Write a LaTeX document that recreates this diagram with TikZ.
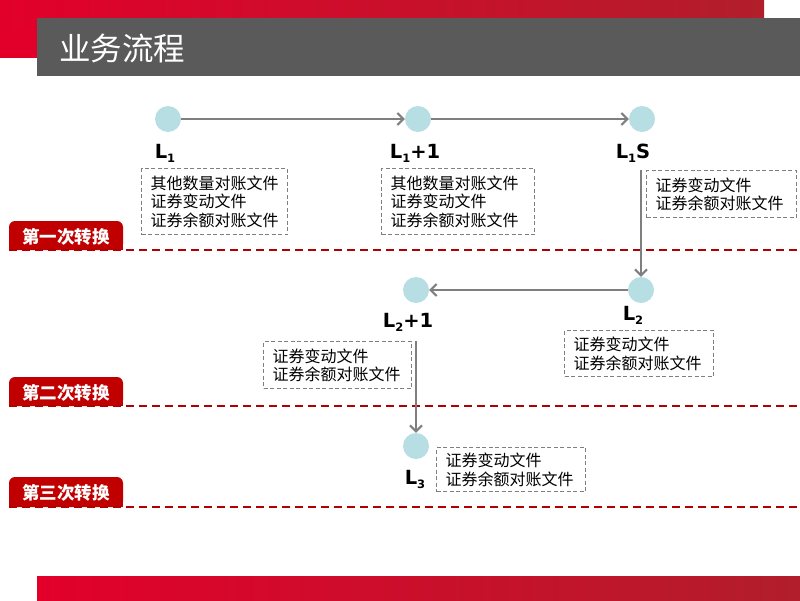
\documentclass[tikz,border=0pt]{standalone}
\usepackage{fontspec}
\setmainfont{Liberation Sans}
\newfontfamily\cjk{Noto Sans CJK SC}
\newfontfamily\labfont{DejaVu Sans}
\usetikzlibrary{arrows.meta}
\definecolor{redA}{HTML}{E2002B}
\definecolor{redB}{HTML}{B21E2B}
\definecolor{barGray}{HTML}{5A5A5A}
\definecolor{nodeBlue}{HTML}{B7DEE3}
\definecolor{arrGray}{HTML}{7F7F7F}
\definecolor{tabRed}{HTML}{C00000}
\definecolor{lineRed}{HTML}{B00000}
\newcommand\Lab[2]{L\raisebox{-4pt}{\fontsize{11.5}{11.5}\selectfont #1}#2}
\tikzset{
  dot/.style={circle, fill=nodeBlue, minimum size=26pt, inner sep=0pt},
  arr/.style={draw=arrGray, line width=2.6pt, -{Straight Barb[length=6pt,width=12pt,line width=2pt]}},
  lbl/.style={font=\labfont\bfseries\fontsize{19.5}{19.5}\selectfont, anchor=base, inner sep=0pt},
  fbox/.style={draw=arrGray, dash pattern=on 4pt off 2.5pt, line width=1.4pt,
    font=\cjk\fontsize{16}{18.5}\selectfont, align=left, inner xsep=9pt, inner ysep=3pt, anchor=north west},
  tabtxt/.style={text=white, font=\cjk\bfseries\fontsize{17.5}{17.5}\selectfont, inner sep=0pt},
  rdash/.style={draw=lineRed, line width=2pt, dash pattern=on 8pt off 5pt},
}
\begin{document}
\begin{tikzpicture}[x=1pt,y=-1pt]
\useasboundingbox (0,0) rectangle (800,600);
% header
\fill[redA] (0,0) rectangle (40,58);
\shade[left color=redA, right color=redB] (0,0) rectangle (764,28);
\fill[barGray] (37,18) rectangle (800,76);
\node[font=\cjk\fontsize{31.5}{31.5}\selectfont, text=white, anchor=west, inner sep=0pt] (title) at (59,48) {业务流程};
% footer
\shade[left color=redA, right color=redB] (37,576) rectangle (800,600);
% tabs and dashed lines
\fill[tabRed, rounded corners=6pt] (9,221) rectangle (123,250);
\fill[tabRed] (9,238) rectangle (123,250);
\node[tabtxt] (t1) at (66,237) {第一次转换};
\draw[rdash] (9,250) -- (800,250);
\fill[tabRed, rounded corners=6pt] (9,377) rectangle (123,406);
\fill[tabRed] (9,394) rectangle (123,406);
\node[tabtxt] (t2) at (66,393) {第二次转换};
\draw[rdash] (9,406) -- (800,406);
\fill[tabRed, rounded corners=6pt] (9,477) rectangle (123,507);
\fill[tabRed] (9,494) rectangle (123,507);
\node[tabtxt] (t3) at (66,493) {第三次转换};
\draw[rdash] (9,507) -- (800,507);
% nodes
\node[dot] (n1) at (168,119) {};
\node[dot] (n2) at (418,119) {};
\node[dot] (n3) at (642,119) {};
\node[dot] (n4) at (641,290) {};
\node[dot] (n5) at (416,290) {};
\node[dot] (n6) at (416,446) {};
% labels
\node[lbl] (l1) at (165,158) {\Lab{1}{}};
\node[lbl] (l2) at (415,158) {\Lab{1}{+1}};
\node[lbl] (l3) at (633,158) {\Lab{1}{S}};
\node[lbl] (l4) at (633,320) {\Lab{2}{}};
\node[lbl] (l5) at (408,327) {\Lab{2}{+1}};
\node[lbl] (l6) at (415,484) {\Lab{3}{}};
% boxes
\node[fbox, text width=128pt, minimum height=66pt] (b1) at (141,168) {其他数量对账文件\\证券变动文件\\证券余额对账文件};
\node[fbox, text width=135pt, minimum height=66pt] (b2) at (381,168) {其他数量对账文件\\证券变动文件\\证券余额对账文件};
\node[fbox, text width=132pt, minimum height=47pt] (b3) at (646,170) {证券变动文件\\证券余额对账文件};
\node[fbox, text width=131pt, minimum height=46pt] (b4) at (564,330) {证券变动文件\\证券余额对账文件};
\node[fbox, text width=130pt, minimum height=47pt] (b5) at (263,341) {证券变动文件\\证券余额对账文件};
\node[fbox, text width=131pt, minimum height=44pt] (b6) at (436,447) {证券变动文件\\证券余额对账文件};
% connectors
\coordinate (c1) at (641,170);
\coordinate (c2) at (416,341);
\draw[arr] (n1) -- (n2);
\draw[arr] (n2) -- (n3);
\draw[arr] (c1) -- (n4);
\draw[arr] (n4) -- (n5);
\draw[arr] (c2) -- (n6);
\end{tikzpicture}
\end{document}
